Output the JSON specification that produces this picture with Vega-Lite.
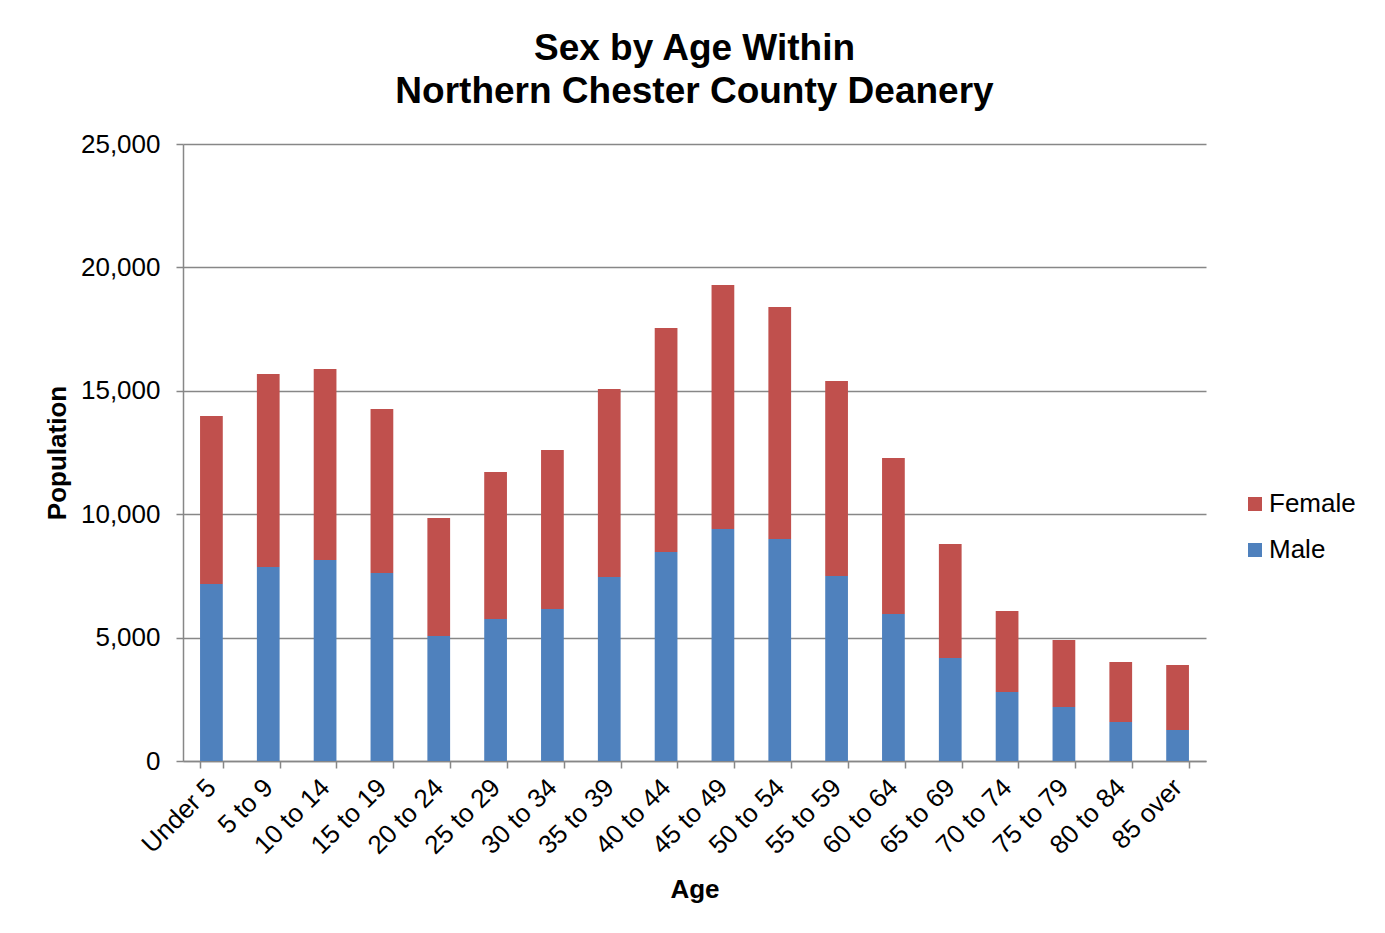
{
  "$schema": "https://vega.github.io/schema/vega-lite/v6.json",
  "autosize": "none",
  "width": 1023,
  "height": 617,
  "padding": {"left": 183, "top": 144, "right": 179, "bottom": 172},
  "background": "white",
  "title": {
    "text": ["Sex by Age Within", "Northern Chester County Deanery"],
    "font": "Liberation Sans",
    "fontSize": 37,
    "fontWeight": "bold",
    "color": "black",
    "lineHeight": 43,
    "anchor": "middle",
    "offset": 20
  },
  "data": {
    "values": [
      {"age": "Under 5", "sex": "Male", "population": 7170},
      {"age": "Under 5", "sex": "Female", "population": 6810},
      {"age": "5 to 9", "sex": "Male", "population": 7860},
      {"age": "5 to 9", "sex": "Female", "population": 7820},
      {"age": "10 to 14", "sex": "Male", "population": 8140},
      {"age": "10 to 14", "sex": "Female", "population": 7740},
      {"age": "15 to 19", "sex": "Male", "population": 7620},
      {"age": "15 to 19", "sex": "Female", "population": 6640},
      {"age": "20 to 24", "sex": "Male", "population": 5060},
      {"age": "20 to 24", "sex": "Female", "population": 4790},
      {"age": "25 to 29", "sex": "Male", "population": 5750},
      {"age": "25 to 29", "sex": "Female", "population": 5960},
      {"age": "30 to 34", "sex": "Male", "population": 6160},
      {"age": "30 to 34", "sex": "Female", "population": 6440},
      {"age": "35 to 39", "sex": "Male", "population": 7460},
      {"age": "35 to 39", "sex": "Female", "population": 7610},
      {"age": "40 to 44", "sex": "Male", "population": 8470},
      {"age": "40 to 44", "sex": "Female", "population": 9070},
      {"age": "45 to 49", "sex": "Male", "population": 9400},
      {"age": "45 to 49", "sex": "Female", "population": 9890},
      {"age": "50 to 54", "sex": "Male", "population": 9000},
      {"age": "50 to 54", "sex": "Female", "population": 9400},
      {"age": "55 to 59", "sex": "Male", "population": 7500},
      {"age": "55 to 59", "sex": "Female", "population": 7900},
      {"age": "60 to 64", "sex": "Male", "population": 5960},
      {"age": "60 to 64", "sex": "Female", "population": 6320},
      {"age": "65 to 69", "sex": "Male", "population": 4170},
      {"age": "65 to 69", "sex": "Female", "population": 4620},
      {"age": "70 to 74", "sex": "Male", "population": 2800},
      {"age": "70 to 74", "sex": "Female", "population": 3280},
      {"age": "75 to 79", "sex": "Male", "population": 2190},
      {"age": "75 to 79", "sex": "Female", "population": 2710},
      {"age": "80 to 84", "sex": "Male", "population": 1580},
      {"age": "80 to 84", "sex": "Female", "population": 2430},
      {"age": "85 over", "sex": "Male", "population": 1260},
      {"age": "85 over", "sex": "Female", "population": 2630}
    ]
  },
  "mark": {"type": "bar"},
  "encoding": {
    "x": {
      "field": "age",
      "type": "nominal",
      "sort": null,
      "title": "Age",
      "scale": {"paddingInner": 0.6, "paddingOuter": 0.3},
      "axis": {
        "labelAngle": -45,
        "labelAlign": "right",
        "labelBaseline": "middle",
        "labelFont": "Liberation Sans",
        "labelFontSize": 26,
        "labelColor": "black",
        "labelPadding": 15,
        "tickBand": "extent",
        "tickSize": 7,
        "tickColor": "#878787",
        "tickWidth": 1.5,
        "domainColor": "#878787",
        "domainWidth": 1.5,
        "titleFont": "Liberation Sans",
        "titleFontSize": 26,
        "titleFontWeight": "bold",
        "titleColor": "black",
        "titlePadding": 18
      }
    },
    "y": {
      "field": "population",
      "type": "quantitative",
      "aggregate": "sum",
      "stack": "zero",
      "title": "Population",
      "scale": {"domain": [0, 25000], "nice": false},
      "axis": {
        "values": [0, 5000, 10000, 15000, 20000, 25000],
        "format": ",d",
        "labelFont": "Liberation Sans",
        "labelFontSize": 26,
        "labelColor": "black",
        "labelPadding": 16,
        "tickSize": 7,
        "tickColor": "#878787",
        "tickWidth": 1.5,
        "domainColor": "#878787",
        "domainWidth": 1.5,
        "grid": true,
        "gridColor": "#878787",
        "gridWidth": 1.5,
        "titleFont": "Liberation Sans",
        "titleFontSize": 26,
        "titleFontWeight": "bold",
        "titleColor": "black",
        "titlePadding": 10
      }
    },
    "color": {
      "field": "sex",
      "type": "nominal",
      "scale": {"domain": ["Female", "Male"], "range": ["#C0504D", "#4F81BD"]},
      "legend": {
        "title": null,
        "orient": "none",
        "legendX": 1059,
        "legendY": 347,
        "symbolType": "square",
        "symbolSize": 196,
        "symbolStrokeWidth": 0,
        "labelFont": "Liberation Sans",
        "labelFontSize": 26,
        "labelColor": "black",
        "labelOffset": 1,
        "rowPadding": 20
      }
    },
    "order": {"field": "sex", "sort": "descending"}
  },
  "config": {
    "view": {"stroke": null}
  }
}
